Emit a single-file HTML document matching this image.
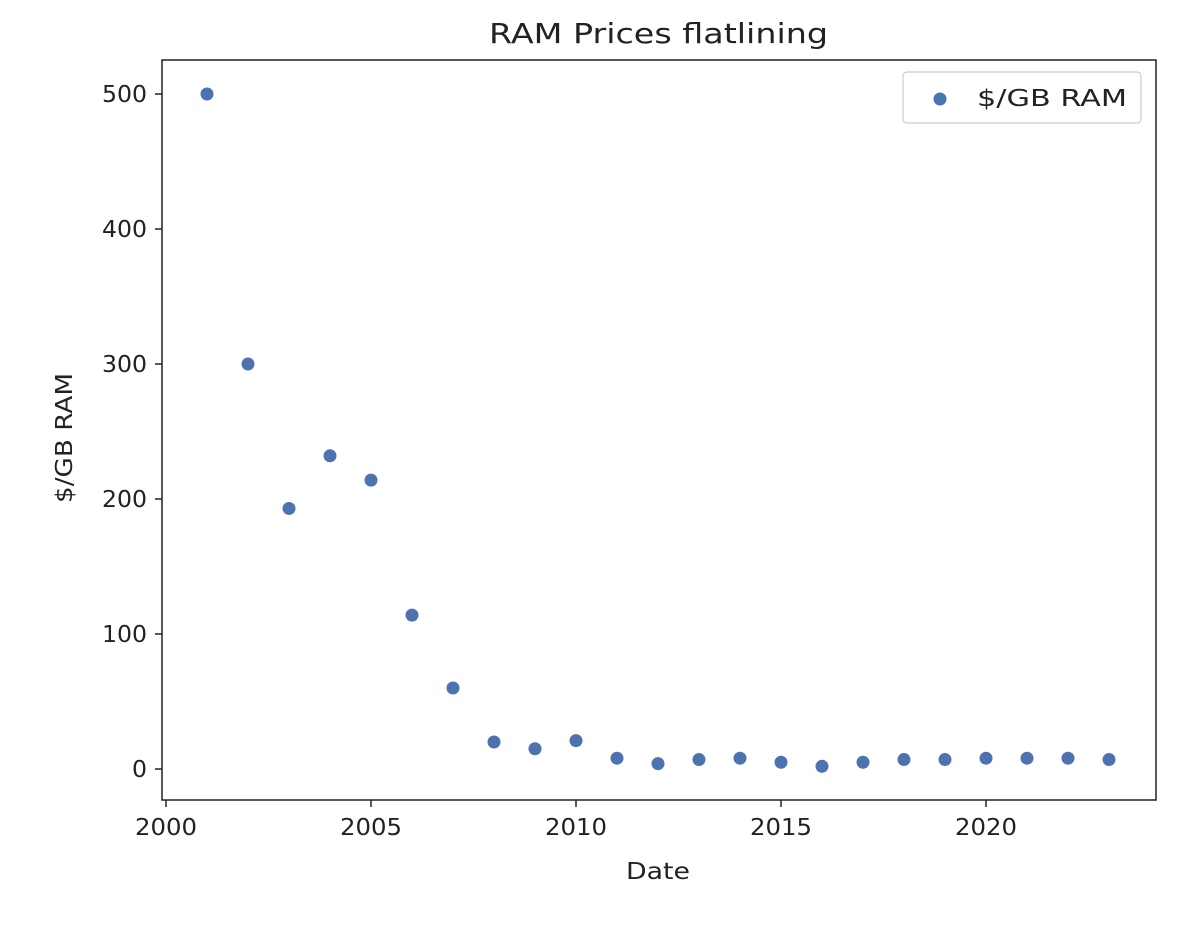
<!DOCTYPE html>
<html><head><meta charset="utf-8"><style>
body{margin:0;background:#fff;}
svg text{font-family:"DejaVu Sans","Liberation Sans",sans-serif;fill:#222;}
</style></head><body>
<svg id="chart" width="1204" height="924" viewBox="0 0 1204 924" xmlns="http://www.w3.org/2000/svg">
<rect width="1204" height="924" fill="#fff"/>
<text x="489" y="43" font-size="28" textLength="339" lengthAdjust="spacingAndGlyphs">RAM Prices flatlining</text>
<g id="axes"></g>
<g id="points"></g>
<rect x="162" y="60" width="994" height="740" fill="none" stroke="#222" stroke-width="1.5"/>
<text x="626" y="879" font-size="23" textLength="64" lengthAdjust="spacingAndGlyphs">Date</text>
<text transform="translate(72,503) rotate(-90)" font-size="23" textLength="130" lengthAdjust="spacingAndGlyphs">$/GB RAM</text>
<g>
<rect x="903" y="72" width="238" height="51" rx="4" fill="#fff" stroke="#ccc" stroke-width="1.2"/>
<circle cx="940" cy="99" r="6.5" fill="#4c72b0"/>
<text x="977" y="106" font-size="23" textLength="150" lengthAdjust="spacingAndGlyphs">$/GB RAM</text>
</g>
</svg>
<script>
const years=[2001,2002,2003,2004,2005,2006,2007,2008,2009,2010,2011,2012,2013,2014,2015,2016,2017,2018,2019,2020,2021,2022,2023];
const prices=[500,300,193,232,214,114,60,20,15,21,8,4,7,8,5,2,5,7,7,8,8,8,7];
const xTicks=[2000,2005,2010,2015,2020];
const yTicks=[0,100,200,300,400,500];
const NS="http://www.w3.org/2000/svg";
function xs(v){return 166+(v-2000)*41;}
function ys(v){return 769-v*1.35;}
const axes=document.getElementById('axes'),pts=document.getElementById('points');
function mk(tag,at,parent){const e=document.createElementNS(NS,tag);for(const k in at)e.setAttribute(k,at[k]);parent.appendChild(e);return e;}
xTicks.forEach(t=>{
 const l=mk('line',{x1:xs(t),x2:xs(t),y1:800,y2:807,stroke:'#222','stroke-width':1.5},axes);
 
 
 const s=String(t);
 const tx=mk('text',{x:xs(t),y:835,'font-size':23,'text-anchor':'middle',textLength:s.length*15.5,lengthAdjust:'spacingAndGlyphs'},axes);tx.textContent=s;
 
 
});
yTicks.forEach(t=>{
 const l=mk('line',{x1:155,x2:162,y1:ys(t),y2:ys(t),stroke:'#222','stroke-width':1.5},axes);
 
 
 const s=String(t);
 const tx=mk('text',{x:147,y:ys(t)+8,'font-size':23,'text-anchor':'end',textLength:s.length*15,lengthAdjust:'spacingAndGlyphs'},axes);tx.textContent=s;
 
 
});
years.forEach((y,i)=>{
 const c=mk('circle',{cx:xs(y),cy:ys(prices[i]),r:6.5,fill:'#4c72b0'},pts);
 
 
});
</script>
</body></html>
